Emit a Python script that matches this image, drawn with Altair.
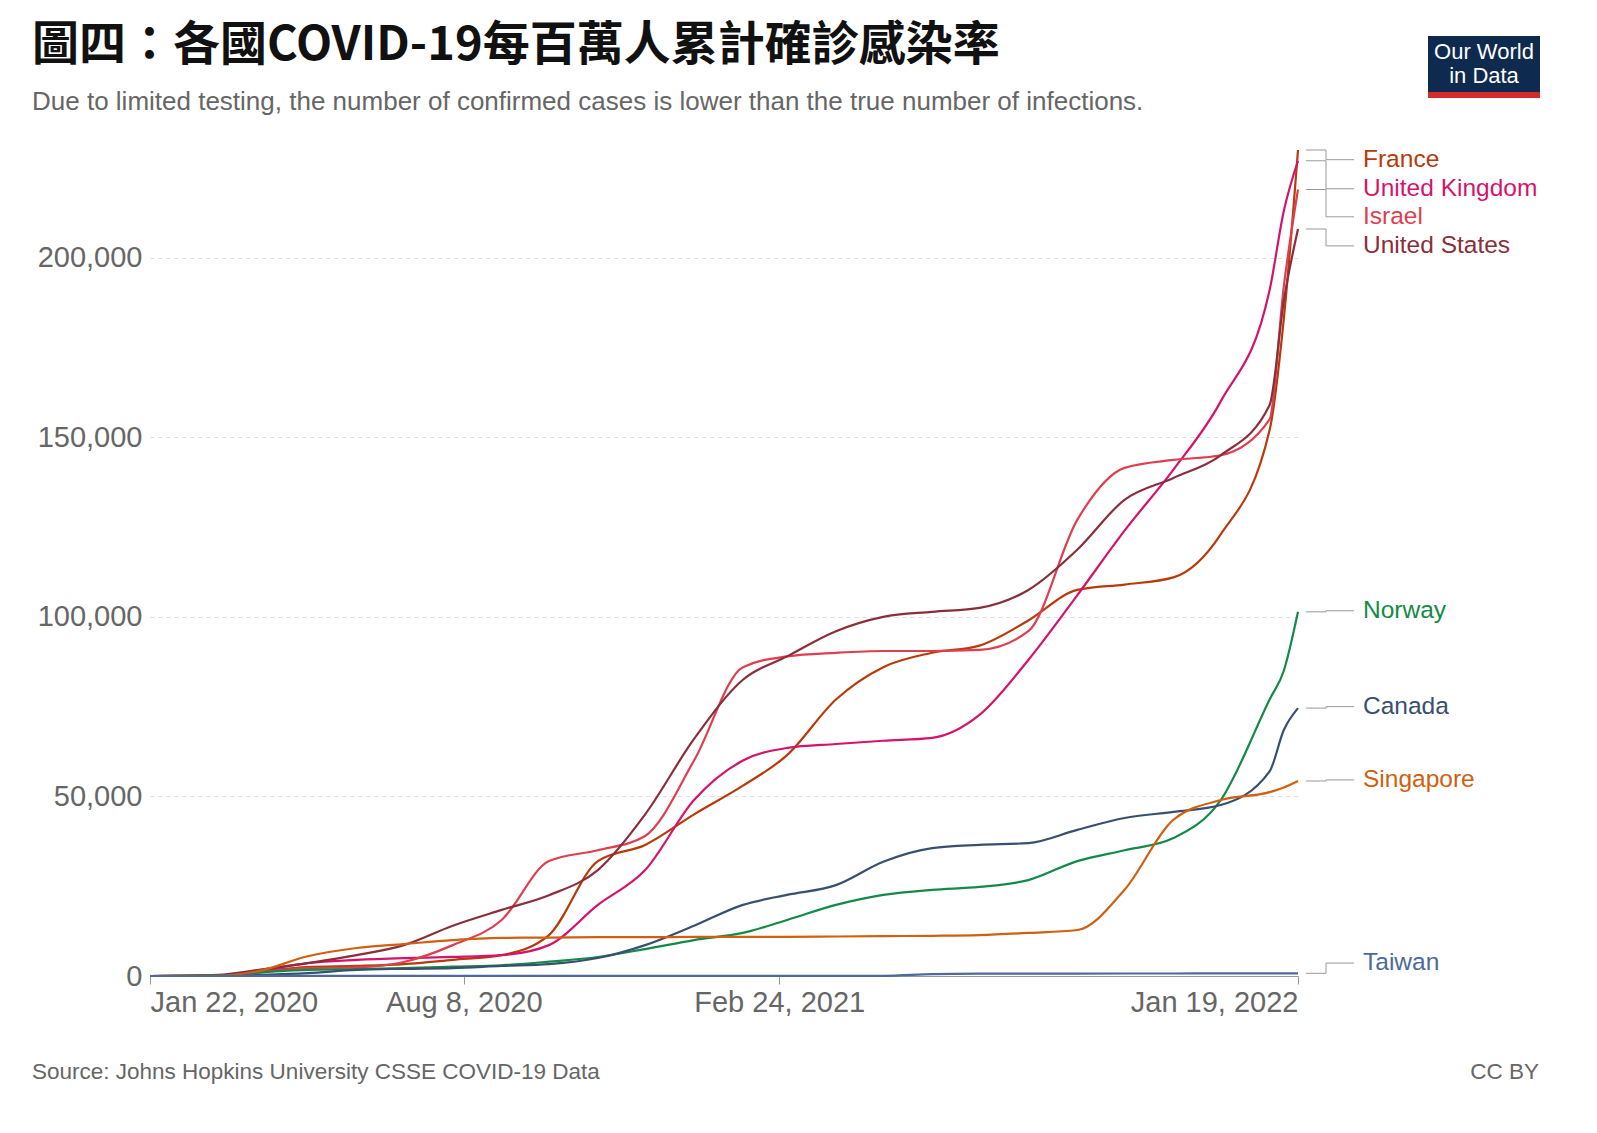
import altair as alt
import pandas as pd

MONTHS = ["2020-05-01", "2020-06-01", "2020-07-01", "2020-08-01", "2020-09-01", "2020-10-01",
          "2020-11-01", "2020-12-01", "2021-01-01", "2021-02-01", "2021-03-01", "2021-04-01",
          "2021-05-01", "2021-06-01", "2021-07-01", "2021-08-01", "2021-09-01", "2021-10-01",
          "2021-11-01", "2021-12-01", "2022-01-01", "2022-01-10", "2022-01-19"]

us = [3.6, 5.8, 8.6, 14, 18.4, 22.5, 29.5, 45, 66, 82.5, 89, 96, 100, 101.4, 102.5, 107.5,
      118.7, 132.6, 138.7, 145, 159, 188, 208]
uk = [3.6, 4.5, 5, 5.3, 5.8, 8.6, 19.8, 29.5, 49, 60, 63.5, 64.6, 65.5, 66.3, 72.7, 88,
      106, 124, 141, 160, 191, 213, 227]
israel = [2.2, 2.4, 3.9, 8.6, 15.6, 32, 35, 39, 60, 86, 89, 90, 90.5, 90.5, 90.8, 96,
          127, 141.5, 143.7, 145, 155, 192, 219]
france = [2.5, 2.8, 3.3, 4.5, 5.8, 11.4, 32, 36.5, 45, 53, 61.5, 77, 86, 90, 92, 99,
          107.5, 109, 111, 123, 152, 183, 230]
norway = [1.7, 1.9, 2.2, 2.6, 3, 4, 5.3, 7.5, 10, 12, 15.6, 19.8, 22.6, 24, 24.8, 26.7,
          32, 35, 38.4, 49, 77, 85, 101.4]
canada = [0.8, 1.7, 2, 2.2, 2.8, 3.3, 5, 8.6, 14, 19.8, 22.6, 25.3, 31.8, 35.6, 36.5, 37,
          40.7, 44, 45.7, 47.6, 57, 68.5, 74.6]
singapore = [5.5, 7.8, 8.9, 10, 10.6, 10.7, 10.8, 10.8, 10.9, 10.9, 10.9, 11, 11.1, 11.2,
             11.4, 12, 12.8, 24, 43.5, 49, 51.2, 52.5, 54.3]
taiwan = [0.02, 0.02, 0.02, 0.02, 0.02, 0.02, 0.03, 0.03, 0.04, 0.04, 0.04, 0.05, 0.05, 0.5,
          0.65, 0.67, 0.68, 0.69, 0.7, 0.71, 0.72, 0.73, 0.75]

START = ["2020-01-22", "2020-03-05", "2020-04-01"]
start_vals = {"United States": [0, 0.3, 1.8], "United Kingdom": [0, 0.1, 1.5],
              "Israel": [0, 0, 1.0], "France": [0, 0.1, 1.3], "Norway": [0, 0.1, 1.0],
              "Canada": [0, 0, 0.3], "Singapore": [0, 0.05, 1.5], "Taiwan": [0, 0.001, 0.015]}

series = {"France": france, "United Kingdom": uk, "Israel": israel, "United States": us,
          "Norway": norway, "Canada": canada, "Singapore": singapore, "Taiwan": taiwan}
colors = {"France": "#b83a0a", "United Kingdom": "#d6136b", "Israel": "#de3f50",
          "United States": "#8b2e3b", "Norway": "#138a47", "Canada": "#38506e",
          "Singapore": "#d0600f", "Taiwan": "#4c6a9c"}
# label positions (thousands)
label_pos = {"France": 227.3, "United Kingdom": 219.2, "Israel": 211.4, "United States": 203.3,
             "Norway": 101.7, "Canada": 75, "Singapore": 54.6, "Taiwan": 3.6}

rows = []
for c, vals in series.items():
    for d, v in zip(START + MONTHS, start_vals[c] + vals):
        rows.append({"date": d, "country": c, "value": v * 1000})
df = pd.DataFrame(rows)

labels = pd.DataFrame([{"country": c, "end": series[c][-1] * 1000, "lab": label_pos[c] * 1000}
                       for c in series])

X0, X1 = 150, 1298
W, H = X1 - X0, 826
cscale = alt.Scale(domain=list(colors), range=list(colors.values()))
xs = alt.Scale(domain=["2020-01-22", "2022-01-19"])
ys = alt.Scale(domain=[0, 230000], nice=False)

lines = alt.Chart(df).mark_line(strokeWidth=2.2, interpolate="monotone").encode(
    x=alt.X("date:T", scale=xs, title=None,
            axis=alt.Axis(values=["2020-01-22", "2020-08-08", "2021-02-24", "2022-01-19"],
                          format="%b %-d, %Y", labelFlush=True, labelFontSize=29,
                          labelColor="#666", labelFont="Liberation Sans", grid=False,
                          domainColor="#999", tickColor="#999", tickSize=8, labelPadding=4)),
    y=alt.Y("value:Q", scale=ys, title=None,
            axis=alt.Axis(values=[0, 50000, 100000, 150000, 200000], format=",.0f",
                          labelFontSize=29, labelColor="#666", labelFont="Liberation Sans",
                          domain=False, ticks=False, gridDash=[4, 4], gridColor="#ddd",
                          labelPadding=8)),
    color=alt.Color("country:N", scale=cscale, legend=None),
)

conn_color = "#999"
c1 = alt.Chart(labels).mark_rule(color=conn_color).encode(
    x=alt.value(W + 8), x2=alt.value(W + 28), y=alt.Y("end:Q", scale=ys))
c2 = alt.Chart(labels).mark_rule(color=conn_color).encode(
    x=alt.value(W + 28), y=alt.Y("end:Q", scale=ys), y2="lab:Q")
c3 = alt.Chart(labels).mark_rule(color=conn_color).encode(
    x=alt.value(W + 28), x2=alt.value(W + 56), y=alt.Y("lab:Q", scale=ys))
ltext = alt.Chart(labels).mark_text(align="left", baseline="middle", fontSize=24.5,
                                    font="Liberation Sans").encode(
    x=alt.value(W + 65), y=alt.Y("lab:Q", scale=ys), text="country:N",
    color=alt.Color("country:N", scale=cscale, legend=None))

def txt(s, x, y, **kw):
    return alt.Chart(pd.DataFrame({"t": [s]})).mark_text(**kw).encode(
        x=alt.value(x), y=alt.value(y), text="t:N")

title = txt("圖四：各國COVID-19每百萬人累計確診感染率", -118, -104, align="left",
            baseline="middle", fontSize=47, fontWeight="bold", font="Noto Sans CJK TC",
            color="#111")
subtitle = txt("Due to limited testing, the number of confirmed cases is lower than the true number of infections.",
               -118, -48, align="left", baseline="middle", fontSize=26,
               font="Liberation Sans", color="#666")
source = txt("Source: Johns Hopkins University CSSE COVID-19 Data", -118, 96 + H,
             align="left", baseline="middle", fontSize=22.5, font="Liberation Sans", color="#666")
ccby = txt("CC BY", W + 241, 96 + H, align="right", baseline="middle", fontSize=22.5,
           font="Liberation Sans", color="#666")
logo_bg = alt.Chart(pd.DataFrame({"a": [0]})).mark_rect(color="#0e2a4e").encode(
    x=alt.value(W + 130), x2=alt.value(W + 242), y=alt.value(-114), y2=alt.value(-58))
logo_red = alt.Chart(pd.DataFrame({"a": [0]})).mark_rect(color="#d42b2b").encode(
    x=alt.value(W + 130), x2=alt.value(W + 242), y=alt.value(-58), y2=alt.value(-52))
logo1 = txt("Our World", W + 186, -98, align="center", baseline="middle", fontSize=22,
            font="Liberation Sans", color="white")
logo2 = txt("in Data", W + 186, -74, align="center", baseline="middle", fontSize=22,
            font="Liberation Sans", color="white")

chart = alt.layer(lines, c1, c2, c3, ltext, title, subtitle, source, ccby,
                  logo_bg, logo_red, logo1, logo2).properties(
    width=W, height=H, autosize=alt.AutoSizeParams(type="none"),
    padding={"left": X0 - 8, "top": 150 - 8, "right": 250, "bottom": 120},
).configure_view(stroke=None)

chart.save("out.html", embed_options={"renderer": "svg", "actions": False})
